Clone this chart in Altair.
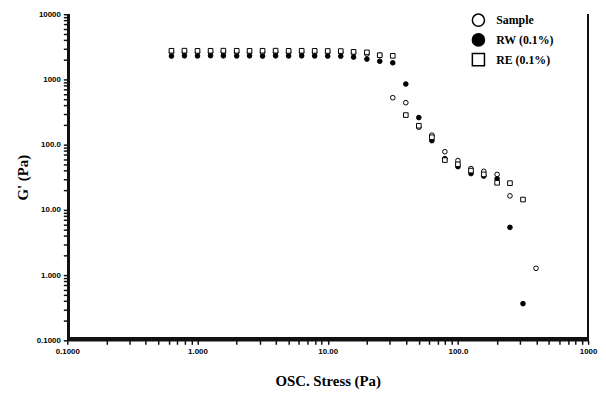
import altair as alt
import pandas as pd

# Oscillation stress (Pa)
stress = [0.631, 0.794, 1.00, 1.26, 1.58, 2.00, 2.51, 3.16, 3.98, 5.01, 6.31, 7.94,
          10.0, 12.6, 15.8, 20.0, 25.1, 31.6, 39.8, 50.1, 63.1, 79.4, 100, 126, 158,
          200, 251, 316, 398]

# G' (Pa) per series (None = no point)
sample = [2600, 2620, 2600, 2580, 2610, 2600, 2590, 2600, 2610, 2590, 2600, 2580,
          2600, 2590, 2550, 2450, 2350, 525, 440, 185, 140, 78, 57, 43, 39,
          35, 16.4, None, 1.27]
rw = [2280, 2300, 2290, 2310, 2300, 2290, 2300, 2280, 2300, 2290, 2300, 2290,
      2280, 2270, 2200, 2050, 1900, 1800, 850, 260, 115, 61, 46, 36, 33,
      30, 5.4, 0.365, None]
re_ = [2750, 2760, 2740, 2750, 2760, 2750, 2740, 2750, 2760, 2740, 2750, 2740,
       2730, 2720, 2650, 2600, 2350, 2300, 284, 195, 130, 58, 50, 40, 35,
       26, 25.7, 14.4, None]

series_names = ["Sample", "RW (0.1%)", "RE (0.1%)"]
series_vals = [sample, rw, re_]

rows = []
for name, vals in zip(series_names, series_vals):
    for s, g in zip(stress, vals):
        if g is not None:
            rows.append({"stress": s, "G": g, "series": name})
df = pd.DataFrame(rows)

x_ticks = [m * 10 ** e for e in range(-1, 3) for m in range(1, 10)] + [1000]
y_ticks = [m * 10 ** e for e in range(-1, 4) for m in range(1, 10)] + [10000]
is_decade = "abs(log(datum.value)/LN10 - round(log(datum.value)/LN10)) < 0.001"
label_expr = f"{is_decade} ? format(datum.value, '.4r') : ''"

W, H = 527, 330

xscale = alt.Scale(type="log", domain=[0.1, 1000], nice=False)
yscale = alt.Scale(type="log", domain=[0.1, 10000], nice=False)

legend = alt.Legend(title=None, orient="none", legendX=409, legendY=-1,
                    symbolSize=150, symbolStrokeWidth=1.5, symbolOpacity=1,
                    labelFont="Liberation Serif", labelFontSize=12,
                    labelFontWeight="bold", labelColor="black",
                    labelOffset=11, rowPadding=0)

axis_style = dict(domainColor="#111111", domainWidth=1.5, tickColor="#111111",
                  tickWidth=1.5, tickSize=4, grid=False, labelFlush=False,
                  labelOverlap=False, zindex=1)

points = alt.Chart(df).mark_point(filled=True, size=22, strokeWidth=1, opacity=1).encode(
    x=alt.X("stress:Q", scale=xscale,
            axis=alt.Axis(values=x_ticks, labelExpr=label_expr,
                          title="OSC. Stress (Pa)", labelPadding=3, titlePadding=19,
                          **axis_style)),
    y=alt.Y("G:Q", scale=yscale,
            axis=alt.Axis(values=y_ticks, labelExpr=label_expr,
                          title="G' (Pa)", labelPadding=3, titlePadding=6,
                          **axis_style)),
    shape=alt.Shape("series:N", sort=series_names,
                    scale=alt.Scale(domain=series_names, range=["circle", "circle", "square"]),
                    legend=legend),
    fill=alt.Fill("series:N", sort=series_names,
                  scale=alt.Scale(domain=series_names, range=["white", "black", "white"]),
                  legend=legend),
    stroke=alt.Stroke("series:N", sort=series_names,
                      scale=alt.Scale(domain=series_names, range=["black", "black", "black"]),
                      legend=legend),
)

frame_right = alt.Chart(df).mark_rule(color="#111111", strokeWidth=1.5).encode(
    x=alt.value(W), y=alt.value(0), y2=alt.value(H)
)
frame_left = alt.Chart(df).mark_rule(color="#111111", strokeWidth=2).encode(
    x=alt.value(1.5), y=alt.value(0), y2=alt.value(H)
)
frame_bottom = alt.Chart(df).mark_rule(color="#111111", strokeWidth=2).encode(
    x=alt.value(0), x2=alt.value(W), y=alt.value(H - 1.5)
)

chart = alt.layer(points, frame_right, frame_left, frame_bottom).properties(
    width=W, height=H,
    padding={"left": 60, "top": 4, "right": 10, "bottom": 50},
    autosize=alt.AutoSizeParams(type="none"),
).configure_view(stroke=None, fill=None).configure_axis(
    labelColor="black",
    labelFont="Liberation Sans", labelFontSize=8, labelFontWeight="bold",
    titleFont="Liberation Serif", titleFontSize=15, titleFontWeight="bold",
    titleColor="black",
)

chart.save("out.html", embed_options={"renderer": "svg", "actions": False})
